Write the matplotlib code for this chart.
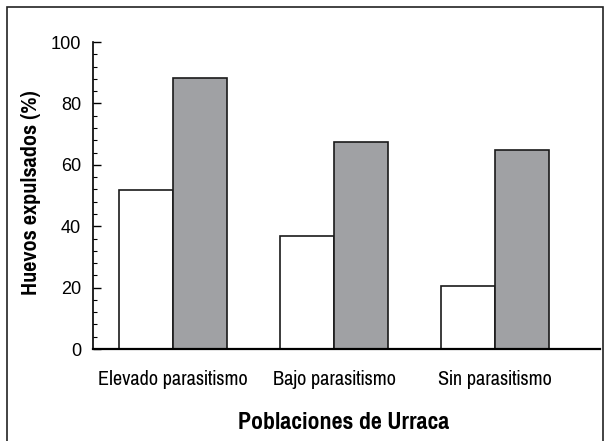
import numpy as np
import matplotlib
matplotlib.use("Agg")
import matplotlib.pyplot as plt
from matplotlib.patches import Rectangle

# Datos
poblaciones = ["Elevado parasitismo", "Bajo parasitismo", "Sin parasitismo"]
serie_blanca = [51.8, 36.9, 20.6]
serie_gris = [88.4, 67.6, 64.8]

plt.rcParams['font.family'] = ['Liberation Sans', 'DejaVu Sans']
narrow = ["Pragati Narrow", "Liberation Sans", "DejaVu Sans"]

fig = plt.figure(figsize=(6.04, 4.41), dpi=100)
ax = fig.add_axes([0.154, 0.2086, 0.839, 0.696])

x = np.arange(len(poblaciones))
w = 0.335
ax.bar(x - w / 2, serie_blanca, width=w, color="white", edgecolor="#1a1a1a", linewidth=1.2)
ax.bar(x + w / 2, serie_gris, width=w, color="#a0a1a4", edgecolor="#1a1a1a", linewidth=1.2)

ax.set_xlim(-0.497, 2.65)
ax.set_ylim(0, 100)
ax.set_yticks(np.arange(0, 101, 20))
ax.set_yticks(np.arange(0, 101, 4), minor=True)
ax.tick_params(axis="y", which="major", direction="in", length=6, width=1, labelsize=13.1, pad=8.6)
ax.tick_params(axis="y", which="minor", direction="in", length=3, width=0.8)
ax.set_xticks(x)
ax.set_xticklabels(poblaciones, fontsize=15.9, family=narrow)
ax.tick_params(axis="x", length=0, pad=15)

ax.spines["top"].set_visible(False)
ax.spines["right"].set_visible(False)
ax.spines["left"].set_linewidth(1.2)
ax.spines["bottom"].set_linewidth(1.6)

ax.set_ylabel("Huevos expulsados (%)", fontsize=17.4, fontweight="bold", family=narrow)
ax.set_xlabel("Poblaciones de Urraca", fontsize=18.7, fontweight="bold", family=narrow)
ax.yaxis.set_label_coords(-0.1026, 0.51)
ax.xaxis.set_label_coords(0.494, -0.205)

# marco de la figura
fig.patches.append(Rectangle((7 / 604, -0.05), 596 / 604, 1.05 - 7 / 441,
                             transform=fig.transFigure, fill=False,
                             edgecolor="#222222", linewidth=1.2))

fig.savefig("out.png", dpi=100)
